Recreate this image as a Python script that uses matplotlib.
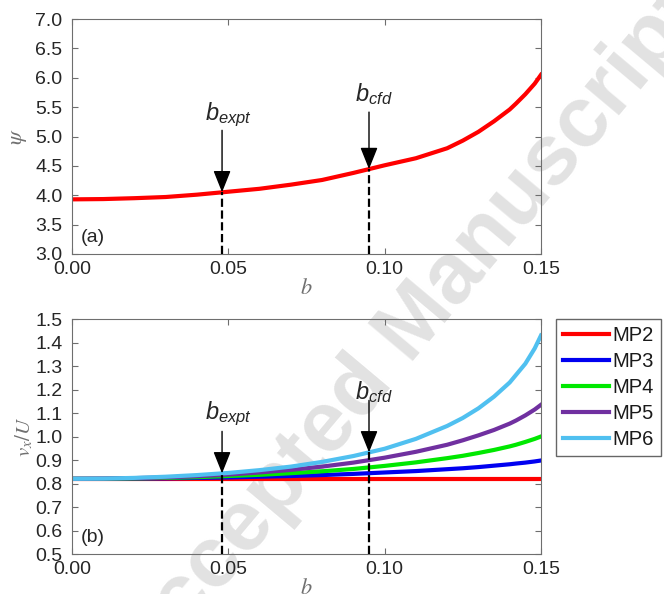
import numpy as np
import matplotlib
matplotlib.use("Agg")
import matplotlib.pyplot as plt

plt.rcParams['font.family'] = ['Liberation Sans', 'DejaVu Sans']
plt.rcParams['mathtext.fontset'] = 'custom'
plt.rcParams['mathtext.rm'] = 'Liberation Sans'
plt.rcParams['mathtext.it'] = 'Liberation Sans:italic'

# values
b = [0.0, 0.01, 0.02, 0.03, 0.04, 0.05, 0.06, 0.07, 0.08, 0.09,
     0.10, 0.11, 0.12, 0.125, 0.13, 0.135, 0.14, 0.142, 0.145, 0.148, 0.15]
psi = [3.93, 3.935, 3.95, 3.97, 4.01, 4.06, 4.11, 4.18, 4.26, 4.38,
       4.51, 4.63, 4.80, 4.93, 5.08, 5.26, 5.46, 5.56, 5.72, 5.90, 6.05]

mp2 = [0.82] * len(b)
mp3 = [0.82, 0.82, 0.821, 0.822, 0.824, 0.826, 0.829, 0.832, 0.836, 0.841,
       0.847, 0.853, 0.861, 0.865, 0.870, 0.876, 0.882, 0.885, 0.889, 0.894, 0.898]
mp4 = [0.82, 0.82, 0.822, 0.824, 0.827, 0.832, 0.837, 0.844, 0.852, 0.862,
       0.875, 0.890, 0.908, 0.918, 0.930, 0.943, 0.958, 0.965, 0.977, 0.990, 1.0]
mp5 = [0.82, 0.821, 0.823, 0.826, 0.831, 0.838, 0.847, 0.858, 0.872, 0.889,
       0.910, 0.935, 0.965, 0.984, 1.005, 1.028, 1.055, 1.068, 1.090, 1.115, 1.135]
mp6 = [0.82, 0.821, 0.824, 0.829, 0.836, 0.845, 0.857, 0.872, 0.892, 0.917,
       0.948, 0.990, 1.045, 1.079, 1.120, 1.170, 1.230, 1.262, 1.310, 1.375, 1.43]
series = [mp2, mp3, mp4, mp5, mp6]
names = ['MP2', 'MP3', 'MP4', 'MP5', 'MP6']
colors = ['#ff0000', '#0000f0', '#00e800', '#7030a0', '#50c0f0']

b_expt = 0.048
b_cfd = 0.095

fig = plt.figure(figsize=(6.64, 5.94), dpi=100)

# watermark behind everything
fig.text(0.615, 0.44, 'Accepted Manuscript', rotation=50, fontsize=62,
         fontweight='bold', color='#e2e2e2', ha='center', va='center',
         rotation_mode='anchor', zorder=-5)

ax1 = fig.add_axes([0.1084, 0.5724, 0.7063, 0.3956])
ax2 = fig.add_axes([0.1084, 0.0673, 0.7063, 0.3956])

px = 0.72  # pixels -> points


def style(ax):
    ax.set_facecolor('none')
    ax.set_xlim(0, 0.15)
    ax.set_xticks([0, 0.05, 0.10, 0.15])
    ax.set_xticklabels(['0.00', '0.05', '0.10', '0.15'])
    ax.tick_params(direction='in', top=True, right=True, length=4,
                   labelsize=14, colors='#6e6e6e', labelcolor='#262626')
    ax.tick_params(axis='x', pad=5)
    ax.tick_params(axis='y', pad=7)
    for s in ax.spines.values():
        s.set_color('#6e6e6e')
    ax.set_xlabel('$b$', math_fontfamily='stix', fontsize=16, color='#707070', labelpad=0)


def mark(ax, xb, ytip, arrow_px, text_px, label, dx_px):
    # dashed drop line, arrow and label
    ax.plot([xb, xb], [ax.get_ylim()[0], ytip], 'k--', lw=1.6, zorder=4)
    ax.annotate('', xy=(xb, ytip), xytext=(0, arrow_px * px), textcoords='offset points',
                arrowprops=dict(arrowstyle='-|>,head_length=0.75,head_width=0.3',
                                color='k', lw=1.0, mutation_scale=18, shrinkA=0, shrinkB=0),
                zorder=5)
    ax.annotate(label, xy=(xb, ytip), xytext=(dx_px * px, text_px * px),
                textcoords='offset points', ha='center', va='bottom', fontsize=17,
                color='#262626')


# (a)
ax1.set_ylim(3, 7)
ax1.set_yticks(np.arange(3, 7.01, 0.5))
ax1.set_yticklabels(['%.1f' % v for v in np.arange(3, 7.01, 0.5)])
style(ax1)
ax1.plot(b, psi, color='#ff0000', lw=3)
ax1.set_ylabel(r'$\psi$', math_fontfamily='stix', fontsize=16, color='#707070', labelpad=4)
ax1.text(0.018, 0.05, '(a)', transform=ax1.transAxes, fontsize=14, color='#262626')
mark(ax1, b_expt, np.interp(b_expt, b, psi), 62, 63, r'$b_{expt}$', 6)
mark(ax1, b_cfd, np.interp(b_cfd, b, psi), 57, 62, r'$b_{cfd}$', 5)

# (b)
ax2.set_ylim(0.5, 1.5)
ax2.set_yticks(np.arange(0.5, 1.501, 0.1))
ax2.set_yticklabels(['%.1f' % v for v in np.arange(0.5, 1.501, 0.1)])
style(ax2)
for ys, nm, c in zip(series, names, colors):
    ax2.plot(b, ys, color=c, lw=3, label=nm)
ax2.set_ylabel(r'$v_x/U$', math_fontfamily='stix', fontsize=15, color='#707070', labelpad=0)
ax2.text(0.018, 0.05, '(b)', transform=ax2.transAxes, fontsize=14, color='#262626')
mark(ax2, b_expt, np.interp(b_expt, b, mp6), 42, 45, r'$b_{expt}$', 6)
mark(ax2, b_cfd, np.interp(b_cfd, b, mp6), 52, 47, r'$b_{cfd}$', 5)

leg = ax2.legend(loc='upper left', bbox_to_anchor=(0.837, 0.463),
                 bbox_transform=fig.transFigure, borderaxespad=0, fancybox=False,
                 fontsize=14.5, handlelength=2.3, handletextpad=0.15, labelspacing=0.35,
                 borderpad=0.35)
leg.get_frame().set_edgecolor('#404040')
leg.get_frame().set_linewidth(1.0)
for t in leg.get_texts():
    t.set_color('#1a1a1a')

fig.savefig('out.png', dpi=100)
